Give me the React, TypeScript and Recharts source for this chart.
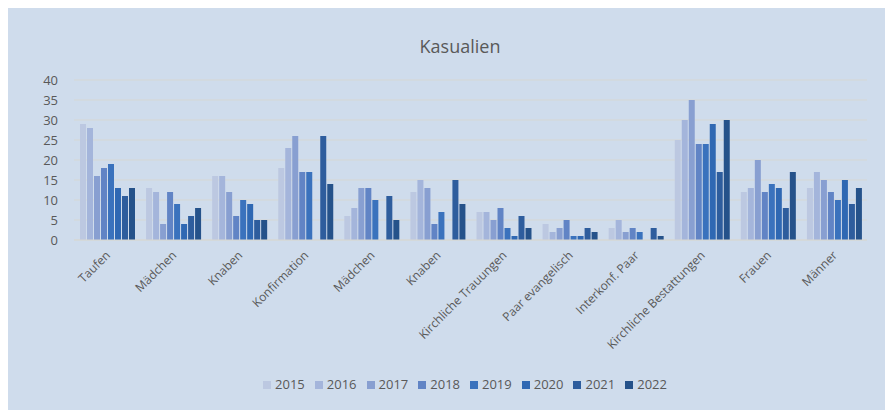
import { BarChart, Bar, XAxis, YAxis, CartesianGrid, Legend } from 'recharts';

// Kategorien der Kasualien (x-Achse)
const categories = [
  'Taufen',
  'Mädchen',
  'Knaben',
  'Konfirmation',
  'Mädchen',
  'Knaben',
  'Kirchliche Trauungen',
  'Paar evangelisch',
  'Interkonf. Paar',
  'Kirchliche Bestattungen',
  'Frauen',
  'Männer',
];

const years = ['2015', '2016', '2017', '2018', '2019', '2020', '2021', '2022'];

// Werte pro Jahr, in Reihenfolge der Kategorien
const v2015 = [29, 13, 16, 18, 6, 12, 7, 4, 3, 25, 12, 13];
const v2016 = [28, 12, 16, 23, 8, 15, 7, 2, 5, 30, 13, 17];
const v2017 = [16, 4, 12, 26, 13, 13, 5, 3, 2, 35, 20, 15];
const v2018 = [18, 12, 6, 17, 13, 4, 8, 5, 3, 24, 12, 12];
const v2019 = [19, 9, 10, 17, 10, 7, 3, 1, 2, 24, 14, 10];
const v2020 = [13, 4, 9, 0, 0, 0, 1, 1, 0, 29, 13, 15];
const v2021 = [11, 6, 5, 26, 11, 15, 6, 3, 3, 17, 8, 9];
const v2022 = [13, 8, 5, 14, 5, 9, 3, 2, 1, 30, 17, 13];

const yTicks = [0, 5, 10, 15, 20, 25, 30, 35, 40];

const seriesValues = [v2015, v2016, v2017, v2018, v2019, v2020, v2021, v2022];
const COLORS = ['#bcc8e1', '#a4b5db', '#889fd1', '#6184c5', '#3a72bd', '#2f68b3', '#2e5d9d', '#25528a'];

const data = categories.map((name, i) => {
  const row: Record<string, string | number> = { name };
  years.forEach((y, k) => {
    row[y] = seriesValues[k][i];
  });
  return row;
});

const FONT = '"Open Sans", sans-serif';
const TEXT = '#595959';

function CategoryTick(props: any) {
  const { x, y, payload } = props;
  return (
    <text
      x={x + 4}
      y={y + 8}
      textAnchor="end"
      fill={TEXT}
      fontSize={12}
      fontFamily={FONT}
      transform={`rotate(-45, ${x + 4}, ${y + 8})`}
    >
      {payload.value}
    </text>
  );
}

function App() {
  return (
    <div
      style={{
        position: 'relative',
        width: 886,
        height: 403,
        marginLeft: -1,
        marginTop: -1,
        background: '#cfdcec',
        fontFamily: FONT,
      }}
    >
      <div
        style={{
          position: 'absolute',
          top: 27,
          left: 0,
          width: 906,
          textAlign: 'center',
          fontSize: 18,
          color: TEXT,
        }}
      >
        Kasualien
      </div>
      <BarChart
        width={886}
        height={403}
        data={data}
        margin={{ top: 73, right: 26, left: 0, bottom: 18 }}
        barCategoryGap={6}
        barGap={1}
      >
        <CartesianGrid vertical={false} stroke="#d6d7d3" />
        <XAxis
          dataKey="name"
          interval={0}
          height={132}
          axisLine={{ stroke: '#d6d7d3' }}
          tickLine={false}
          tick={<CategoryTick />}
        />
        <YAxis
          domain={[0, 40]}
          ticks={yTicks}
          interval={0}
          width={67}
          axisLine={false}
          tickLine={false}
          tickMargin={10}
          tick={{ fill: TEXT, fontSize: 13, fontFamily: FONT }}
        />
        <Legend
          verticalAlign="bottom"
          height={20}
          iconType="square"
          iconSize={8}
          wrapperStyle={{ left: 33 }}
          formatter={(value: string) => (
            <span style={{ color: TEXT, fontSize: 13 }}>{value}</span>
          )}
        />
        {years.map((y, k) => (
          <Bar key={y} dataKey={y} fill={COLORS[k]} isAnimationActive={false} />
        ))}
      </BarChart>
    </div>
  );
}

export default App;
